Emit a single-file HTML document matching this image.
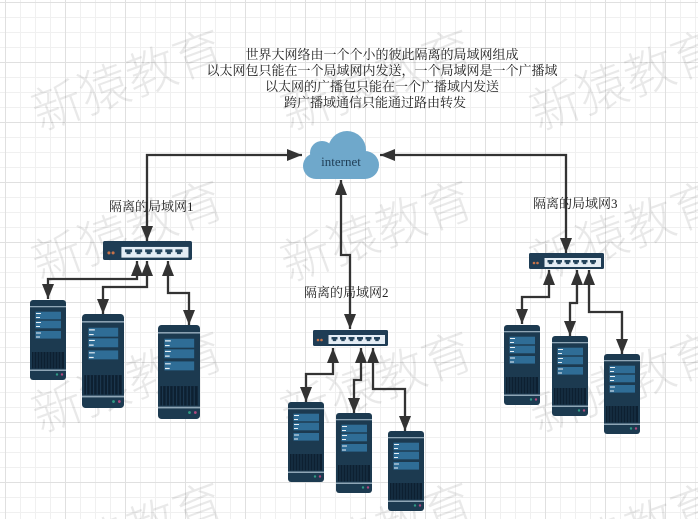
<!DOCTYPE html>
<html><head><meta charset="utf-8"><style>
html,body{margin:0;padding:0;background:#fff;width:698px;height:519px;overflow:hidden}
svg{display:block}
.t{font-family:"Liberation Serif","Noto Serif CJK SC",serif;font-size:13px;fill:#222}
.w{font-family:"Liberation Sans","Noto Sans CJK SC",sans-serif;font-size:50px;font-weight:300;fill:#000;fill-opacity:.085;text-anchor:middle}
.c{fill:none;stroke:#333;stroke-width:2.3}
</style></head><body>
<svg width="698" height="519" viewBox="0 0 698 519" xmlns="http://www.w3.org/2000/svg">
<defs>
<pattern id="g1" width="15" height="15" patternUnits="userSpaceOnUse" x="5" y="2"><path d="M0 .5H15M.5 0V15" stroke="#f0f0f0" fill="none"/></pattern>
<pattern id="g2" width="60" height="60" patternUnits="userSpaceOnUse" x="5" y="2"><path d="M0 .5H60M.5 0V60" stroke="#e0e0e0" fill="none"/></pattern>
<marker id="a" markerUnits="userSpaceOnUse" markerWidth="16" markerHeight="14" refX="15" refY="6.5" orient="auto-start-reverse"><path d="M0 .5L15 6.5L0 12.5Z" fill="#333"/></marker>
<symbol id="srv" viewBox="0 0 36 80" preserveAspectRatio="none">
<rect width="36" height="80" rx="3" fill="#1c3a50"/>
<rect y="6" width="36" height="1.3" fill="#8fa6b6"/>
<rect x="5.5" y="11.7" width="25.5" height="7.6" fill="#2f6d96"/>
<rect x="5.5" y="20.7" width="25.5" height="7.6" fill="#2f6d96"/>
<rect x="5.5" y="31" width="25.5" height="7.6" fill="#2f6d96"/>
<path d="M6 13.5H11M6 17.5H10M6 22.5H11M6 26.5H10M6 33H11M6 37H10" stroke="#e8f0f5" stroke-width="1"/>
<rect x="2" y="52" width="32" height="16.5" fill="#0d2031"/>
<path d="M4 52V68.5M7 52V68.5M10 52V68.5M13 52V68.5M16 52V68.5M19 52V68.5M22 52V68.5M25 52V68.5M28 52V68.5M31 52V68.5" stroke="#1f3d55" stroke-width=".8"/>
<rect y="69.5" width="36" height="1.5" fill="#8fa6b6"/>
<circle cx="27" cy="74.5" r="1.2" fill="#2f9a84"/><circle cx="32" cy="74.5" r="1.2" fill="#b0487e"/>
</symbol>
<symbol id="sw" viewBox="0 0 75 16" preserveAspectRatio="none">
<rect width="75" height="16" rx="1.5" fill="#1f3d55"/>
<rect x="15.5" y="5" width="56.5" height="9" fill="#e4edf5"/>
<circle cx="5" cy="10" r="1.3" fill="#c8734a"/><circle cx="8.5" cy="10" r="1.3" fill="#c8734a"/>
<g fill="#24445c"><path d="M18.5 7h6v2.5h-1.3v1.6h-3.4V9.5h-1.3z"/><path d="M27 7h6v2.5h-1.3v1.6h-3.4V9.5H27z"/><path d="M35.5 7h6v2.5h-1.3v1.6h-3.4V9.5h-1.3z"/><path d="M44 7h6v2.5h-1.3v1.6h-3.4V9.5H44z"/><path d="M52.5 7h6v2.5h-1.3v1.6h-3.4V9.5h-1.3z"/><path d="M61 7h6v2.5h-1.3v1.6h-3.4V9.5H61z"/></g>
</symbol>
</defs>
<rect width="698" height="519" fill="#fff"/>
<rect width="698" height="519" fill="url(#g1)"/>
<rect width="698" height="519" fill="url(#g2)"/>
<g>
<text class="w" transform="translate(134,97) rotate(-20)">新猿教育</text>
<text class="w" transform="translate(383,97) rotate(-20)">新猿教育</text>
<text class="w" transform="translate(632,97) rotate(-20)">新猿教育</text>
<text class="w" transform="translate(134,248) rotate(-20)">新猿教育</text>
<text class="w" transform="translate(383,248) rotate(-20)">新猿教育</text>
<text class="w" transform="translate(632,248) rotate(-20)">新猿教育</text>
<text class="w" transform="translate(134,399) rotate(-20)">新猿教育</text>
<text class="w" transform="translate(383,399) rotate(-20)">新猿教育</text>
<text class="w" transform="translate(632,399) rotate(-20)">新猿教育</text>
<text class="w" transform="translate(134,550) rotate(-20)">新猿教育</text>
<text class="w" transform="translate(383,550) rotate(-20)">新猿教育</text>
<text class="w" transform="translate(632,550) rotate(-20)">新猿教育</text>
</g>
<g class="t" text-anchor="middle">
<text x="382" y="59">世界大网络由一个个小的彼此隔离的局域网组成</text>
<text x="382" y="75">以太网包只能在一个局域网内发送，一个局域网是一个广播域</text>
<text x="382" y="91">以太网的广播包只能在一个广播域内发送</text>
<text x="375" y="107">跨广播域通信只能通过路由转发</text>
</g>
<g fill="#6fa8cb">
<circle cx="347" cy="150" r="19"/>
<circle cx="322" cy="153" r="12"/>
<circle cx="316" cy="166" r="13"/>
<circle cx="365" cy="165" r="14"/>
<rect x="316" y="155" width="49" height="24"/>
</g>
<text x="341" y="166" class="t" text-anchor="middle" style="fill:#1f3d55">internet</text>
<use href="#sw" x="103" y="241" width="89" height="19"/>
<use href="#sw" x="313" y="330" width="75" height="16"/>
<use href="#sw" x="529" y="253" width="75" height="16"/>
<use href="#srv" x="30" y="300" width="36" height="80"/>
<use href="#srv" x="82" y="314" width="42" height="94"/>
<use href="#srv" x="158" y="325" width="42" height="94"/>
<use href="#srv" x="288" y="402" width="36" height="80"/>
<use href="#srv" x="336" y="413" width="36" height="80"/>
<use href="#srv" x="388" y="431" width="36" height="80"/>
<use href="#srv" x="504" y="325" width="36" height="80"/>
<use href="#srv" x="552" y="336" width="36" height="80"/>
<use href="#srv" x="604" y="354" width="36" height="80"/>
<path class="c" marker-start="url(#a)" marker-end="url(#a)" d="M147 241V155H302"/>
<path class="c" marker-start="url(#a)" marker-end="url(#a)" d="M566 253V155H380"/>
<path class="c" marker-start="url(#a)" marker-end="url(#a)" d="M341 180V255H350V329"/>
<path class="c" marker-start="url(#a)" marker-end="url(#a)" d="M137 261V279H48V299"/>
<path class="c" marker-start="url(#a)" marker-end="url(#a)" d="M147 261V287H103V314"/>
<path class="c" marker-start="url(#a)" marker-end="url(#a)" d="M168 261V293H189V325"/>
<path class="c" marker-start="url(#a)" marker-end="url(#a)" d="M333 348V374H306V402"/>
<path class="c" marker-start="url(#a)" marker-end="url(#a)" d="M361 348V380H354V413"/>
<path class="c" marker-start="url(#a)" marker-end="url(#a)" d="M373 348V389H405V431"/>
<path class="c" marker-start="url(#a)" marker-end="url(#a)" d="M549 270V297H522V324"/>
<path class="c" marker-start="url(#a)" marker-end="url(#a)" d="M577 270V303H570V336"/>
<path class="c" marker-start="url(#a)" marker-end="url(#a)" d="M589 270V312H622V354"/>
<text class="t" x="109" y="211">隔离的局域网1</text>
<text class="t" x="304" y="297">隔离的局域网2</text>
<text class="t" x="533" y="208">隔离的局域网3</text>
</svg>
</body></html>
